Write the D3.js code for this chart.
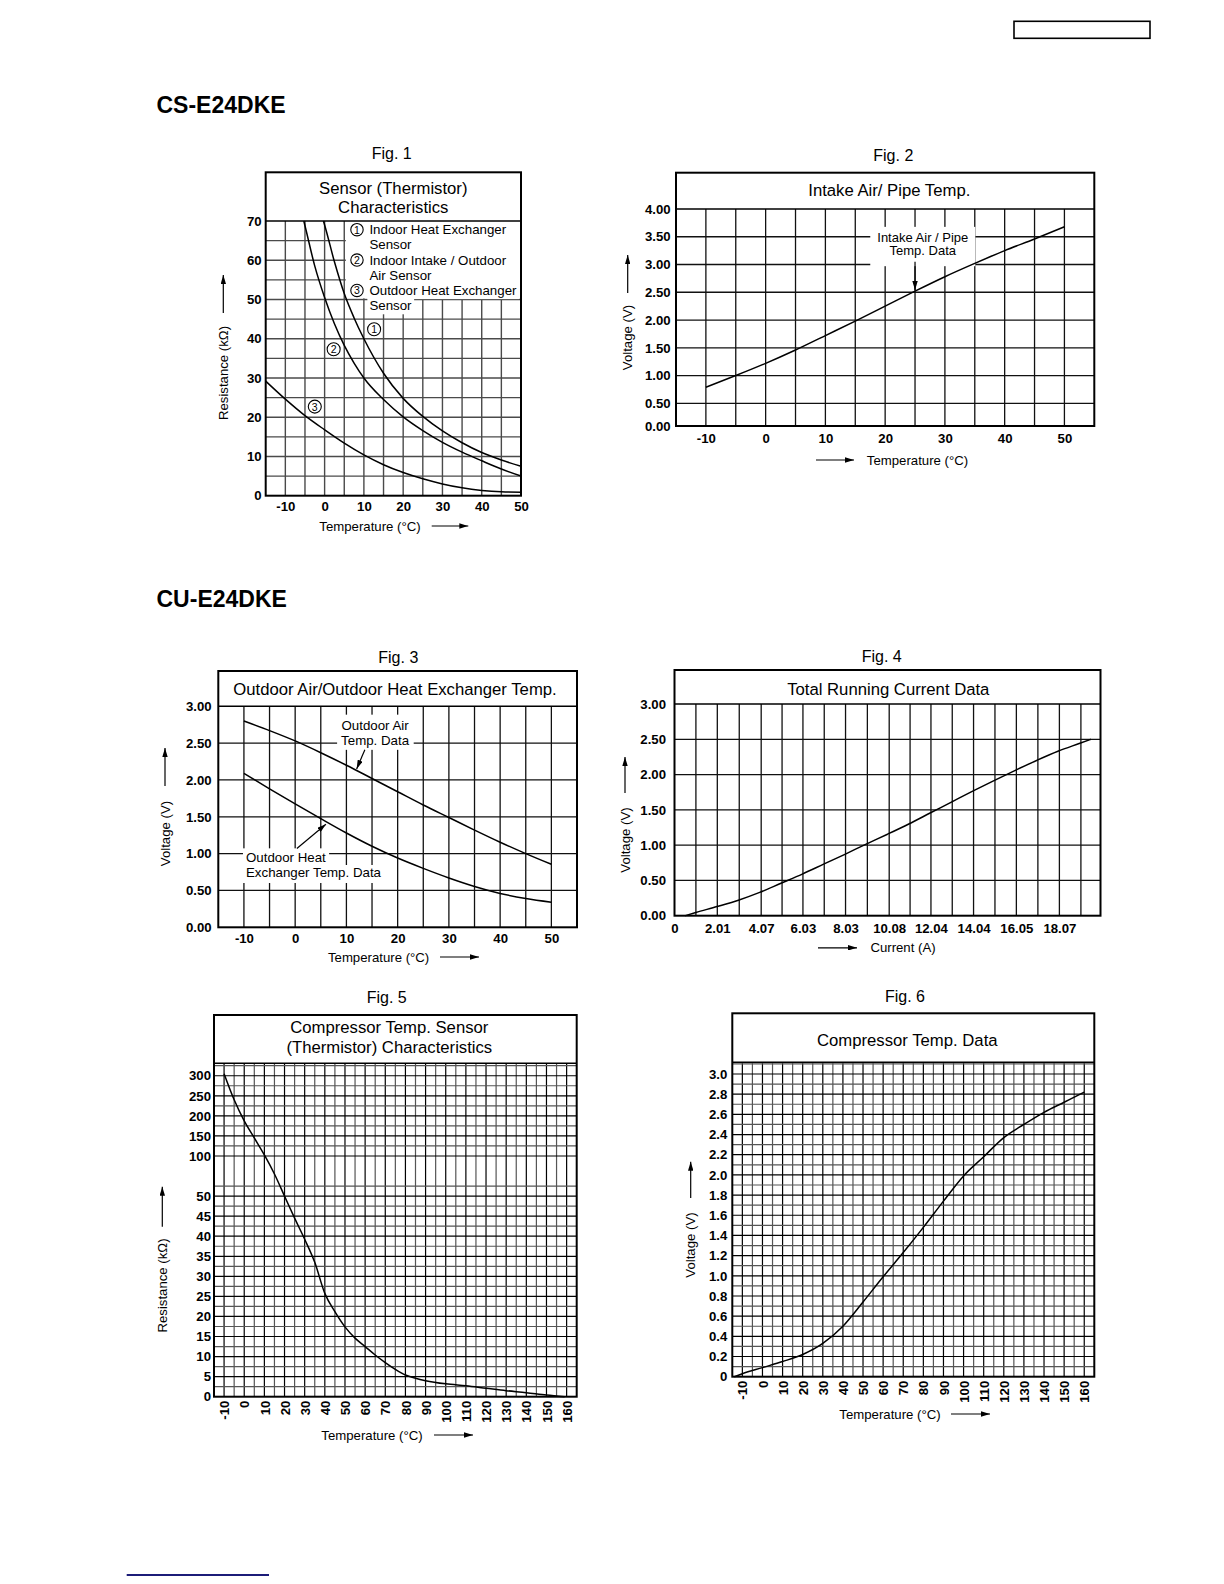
<!DOCTYPE html>
<html>
<head>
<meta charset="utf-8">
<script src="https://cdnjs.cloudflare.com/ajax/libs/d3/7.8.5/d3.min.js"></script>
<style>
html,body{margin:0;padding:0;background:#fff;}
svg{display:block;}
</style>
</head>
<body>
<svg id="page" width="1224" height="1584"></svg>
<script>
// ================= DATA =================
// Fig. 1  Sensor (Thermistor) Characteristics  (Temperature °C -> Resistance kΩ)
const fig1XTicks = [-10, 0, 10, 20, 30, 40, 50];
const fig1YTicks = [0, 10, 20, 30, 40, 50, 60, 70];
const fig1S1Temp = [-0.3, 0, 2.5, 5, 7.5, 10, 15, 20, 25, 30, 35, 40, 45, 50];
const fig1S1Res  = [70, 69, 59.6, 51.5, 45.3, 40, 31.2, 24.8, 20.2, 16.5, 13.5, 11, 9.1, 7.5];
const fig1S2Temp = [-5.3, -5, -2.5, 0, 2.5, 5, 7.5, 10, 15, 20, 25, 30, 35, 40, 45, 50];
const fig1S2Res  = [70, 68.8, 58.5, 50.5, 43.8, 38.3, 33.8, 30, 24.5, 20.1, 16.6, 13.6, 11.1, 8.9, 6.8, 5];
const fig1S3Temp = [-15, -10, -5, 0, 5, 10, 15, 20, 25, 30, 35, 40, 45, 50];
const fig1S3Res  = [29.2, 24.6, 20.4, 16.8, 13.4, 10.4, 7.9, 5.9, 4.3, 3.0, 2.0, 1.35, 1.0, 0.9];
const fig1Legend = [["1", "Indoor Heat Exchanger"], ["", "Sensor"], ["2", "Indoor Intake / Outdoor"],
                    ["", "Air Sensor"], ["3", "Outdoor Heat Exchanger"], ["", "Sensor"]];
const fig1CurveLabels = [["1", 12.6, 42.4], ["2", 2.3, 37.3], ["3", -2.5, 22.7]];

// Fig. 2  Intake Air/ Pipe Temp.
const fig2XTicks = [-10, 0, 10, 20, 30, 40, 50];
const fig2YTicks = [0, 0.5, 1, 1.5, 2, 2.5, 3, 3.5, 4];
const fig2Temp = [-10, -5, 0, 5, 10, 15, 20, 25, 30, 35, 40, 45, 50];
const fig2Volt = [0.79, 1.0, 1.22, 1.46, 1.72, 1.98, 2.25, 2.52, 2.78, 3.02, 3.25, 3.46, 3.68];

// Fig. 3  Outdoor Air/Outdoor Heat Exchanger Temp.
const fig3XTicks = [-10, 0, 10, 20, 30, 40, 50];
const fig3YTicks = [0, 0.5, 1, 1.5, 2, 2.5, 3];
const fig3Temp = [-10, -5, 0, 5, 10, 15, 20, 25, 30, 35, 40, 45, 50];
const fig3AirVolt = [2.80, 2.67, 2.53, 2.37, 2.20, 2.02, 1.84, 1.66, 1.49, 1.32, 1.155, 1.00, 0.855];
const fig3HexVolt = [2.09, 1.88, 1.675, 1.475, 1.28, 1.10, 0.94, 0.80, 0.67, 0.555, 0.46, 0.39, 0.34];

// Fig. 4  Total Running Current Data
const fig4XTicks = [0, 2.01, 4.07, 6.03, 8.03, 10.08, 12.04, 14.04, 16.05, 18.07];
const fig4YTicks = [0, 0.5, 1, 1.5, 2, 2.5, 3];
const fig4Current = [0.5, 1, 2, 3, 4, 5, 6, 7, 8, 9, 10, 11, 12, 13, 14, 15, 16, 17, 18, 19, 19.55];
const fig4Volt = [0, 0.045, 0.13, 0.22, 0.33, 0.46, 0.59, 0.73, 0.87, 1.015, 1.155, 1.30, 1.455, 1.61, 1.765, 1.915, 2.06, 2.2, 2.33, 2.44, 2.50];

// Fig. 5  Compressor Temp. Sensor (Thermistor) Characteristics
const fig5XTicks = [-10, 0, 10, 20, 30, 40, 50, 60, 70, 80, 90, 100, 110, 120, 130, 140, 150, 160];
const fig5YTicks = [0, 5, 10, 15, 20, 25, 30, 35, 40, 45, 50, 100, 150, 200, 250, 300];
const fig5Temp = [-10, -5, 0, 5, 10, 15, 20, 25, 30, 35, 40, 45, 50, 55, 60, 65, 70, 75, 80, 85, 90, 100, 110, 120, 130, 140, 150, 159];
const fig5Res  = [305, 240, 187.5, 145, 102.5, 77.5, 50, 44.5, 39.25, 33.5, 25.75, 21.2, 17.4, 14.6, 12.5, 10.4, 8.5, 6.8, 5.4, 4.6, 4.0, 3.2, 2.7, 2.1, 1.5, 1.0, 0.4, 0];

// Fig. 6  Compressor Temp. Data
const fig6XTicks = [-10, 0, 10, 20, 30, 40, 50, 60, 70, 80, 90, 100, 110, 120, 130, 140, 150, 160];
const fig6YTicks = [0, 0.2, 0.4, 0.6, 0.8, 1.0, 1.2, 1.4, 1.6, 1.8, 2.0, 2.2, 2.4, 2.6, 2.8, 3.0];
const fig6Temp = [-14, -10, 0, 10, 20, 30, 40, 50, 60, 70, 80, 90, 100, 110, 120, 130, 140, 150, 160];
const fig6Volt = [0, 0.03, 0.09, 0.15, 0.22, 0.33, 0.50, 0.74, 0.99, 1.23, 1.48, 1.74, 1.99, 2.18, 2.37, 2.50, 2.62, 2.72, 2.82];

// ================= DRAWING =================
const FONT = '"Liberation Sans", Arial, Helvetica, sans-serif';
const svg = d3.select("#page").attr("font-family", FONT);
const defs = svg.append("defs");
defs.append("marker").attr("id", "ah").attr("viewBox", "0 0 10 6").attr("refX", 10).attr("refY", 3)
  .attr("markerWidth", 9).attr("markerHeight", 5.4).attr("markerUnits", "userSpaceOnUse").attr("orient", "auto")
  .append("path").attr("d", "M0,0L10,3L0,6Z").attr("fill", "#000");

function text(g, x, y, s, o = {}) {
  return g.append("text").attr("x", x).attr("y", y).attr("dy", o.dy ?? "0.35em")
    .attr("text-anchor", o.anchor || "middle").attr("font-size", o.size || 13)
    .attr("font-weight", o.weight || "normal").attr("fill", "#000").text(s);
}
function arrow(g, x1, y1, x2, y2, w = 1.2) {
  g.append("line").attr("x1", x1).attr("y1", y1).attr("x2", x2).attr("y2", y2)
    .attr("stroke", "#000").attr("stroke-width", w).attr("marker-end", "url(#ah)");
}
function whiteBehind(bg, nodes, pad) {
  let x0 = Infinity, y0 = Infinity, x1 = -Infinity, y1 = -Infinity;
  nodes.forEach(n => { const b = n.node().getBBox();
    x0 = Math.min(x0, b.x); y0 = Math.min(y0, b.y); x1 = Math.max(x1, b.x + b.width); y1 = Math.max(y1, b.y + b.height); });
  bg.append("rect").attr("x", x0 - pad[3]).attr("y", y0 - pad[0])
    .attr("width", x1 - x0 + pad[1] + pad[3]).attr("height", y1 - y0 + pad[0] + pad[2]).attr("fill", "#fff");
}
function circled(g, cx, cy, n, r, fs) {
  g.append("circle").attr("cx", cx).attr("cy", cy).attr("r", r).attr("fill", "#fff").attr("stroke", "#000").attr("stroke-width", 1.1);
  text(g, cx, cy + 0.3, n, {size: fs});
}

function panel(p) {
  const g = svg.append("g");
  const x = p.x, y = p.y;
  const grid = g.append("g");
  grid.selectAll("line.v").data(p.xGrid).join("line").attr("class", "v")
    .attr("x1", d => x(d)).attr("x2", d => x(d)).attr("y1", p.bottom).attr("y2", p.plotTop)
    .attr("stroke", d => (p.majorX ? p.majorX(d) : true) ? p.gridMajor : p.gridMinor)
    .attr("stroke-width", p.gridW);
  grid.selectAll("line.h").data(p.yGrid).join("line").attr("class", "h")
    .attr("x1", p.left).attr("x2", p.right).attr("y1", d => y(d)).attr("y2", d => y(d))
    .attr("stroke", d => (p.majorY ? p.majorY(d) : true) ? p.gridMajor : p.gridMinor)
    .attr("stroke-width", p.gridW);
  const bg = g.append("g"), cv = g.append("g"), fg = g.append("g");
  const lineGen = d3.line().x(d => x(d[0])).y(d => y(d[1])).curve(d3.curveMonotoneX);
  p.series.forEach(s => cv.append("path").datum(d3.zip(s[0], s[1])).attr("d", lineGen)
    .attr("fill", "none").attr("stroke", "#000").attr("stroke-width", 1.5).attr("stroke-linejoin", "round"));
  // frame
  g.append("rect").attr("x", p.left).attr("y", p.top).attr("width", p.right - p.left)
    .attr("height", p.bottom - p.top).attr("fill", "none").attr("stroke", "#000").attr("stroke-width", 2);
  g.append("line").attr("x1", p.left).attr("x2", p.right).attr("y1", p.plotTop).attr("y2", p.plotTop)
    .attr("stroke", "#000").attr("stroke-width", 1.6);
  // figure label and title
  text(g, p.figX, p.figY, p.fig, {size: 16});
  p.title.forEach((t, i) => text(g, p.titleX, p.titleY[i], t, {size: 16.7}));
  // axes
  const ay = g.append("g").attr("transform", `translate(${p.left},0)`)
    .call(d3.axisLeft(y).tickValues(p.yTicks).tickFormat(p.yFmt).tickSize(0).tickPadding(p.yPad));
  ay.select(".domain").remove(); ay.selectAll(".tick line").remove();
  ay.attr("font-family", null).attr("font-size", null);
  ay.selectAll("text").attr("font-size", 13.2).attr("font-weight", "bold").attr("fill", "#000");
  const ax = g.append("g").attr("transform", `translate(0,${p.bottom})`)
    .call(d3.axisBottom(x).tickValues(p.xTicks).tickFormat(p.xFmt).tickSize(0).tickPadding(p.xPad));
  ax.select(".domain").remove(); ax.selectAll(".tick line").remove();
  ax.attr("font-family", null).attr("font-size", null);
  const xt = ax.selectAll("text").attr("font-size", 13.2).attr("font-weight", "bold").attr("fill", "#000");
  if (p.rotateX) xt.attr("transform", "rotate(-90)").attr("text-anchor", "end")
    .attr("x", -p.xPad).attr("y", 0).attr("dy", "0.35em");
  // axis titles with arrows
  text(g, p.xTitle.x, p.xTitle.y, p.xTitle.text, {size: 13.2});
  arrow(g, p.xTitle.a0, p.xTitle.y, p.xTitle.a1, p.xTitle.y);
  g.append("text").attr("transform", `translate(${p.yTitle.x},${p.yTitle.y}) rotate(-90)`)
    .attr("text-anchor", "middle").attr("dy", "0.35em").attr("font-size", 13.2).attr("fill", "#000").text(p.yTitle.text);
  arrow(g, p.yTitle.x, p.yTitle.a0, p.yTitle.x, p.yTitle.a1);
  return {g, bg, fg, x, y};
}

const plain = d => String(d);

// ---------- page furniture ----------
svg.append("rect").attr("x", 1014).attr("y", 21.3).attr("width", 136).attr("height", 17)
  .attr("fill", "none").attr("stroke", "#000").attr("stroke-width", 1.6);
svg.append("line").attr("x1", 126.7).attr("x2", 269).attr("y1", 1575).attr("y2", 1575)
  .attr("stroke", "#1c1c78").attr("stroke-width", 2);
text(svg, 156.5, 113.3, "CS-E24DKE", {anchor: "start", size: 23, weight: "bold", dy: 0});
text(svg, 156.5, 607, "CU-E24DKE", {anchor: "start", size: 23, weight: "bold", dy: 0});

// ---------- Fig. 1 ----------
const p1 = panel({
  left: 265.7, right: 521, top: 172.3, plotTop: 221, bottom: 495.7,
  x: d3.scaleLinear().domain([-15, 50]).range([265.7, 521]),
  y: d3.scaleLinear().domain([0, 70]).range([495.7, 221]),
  xGrid: d3.range(-10, 50, 5), yGrid: d3.range(5, 70, 5),
  gridMajor: "#4a4a4a", gridMinor: "#4a4a4a", gridW: 1.4,
  series: [[fig1S1Temp, fig1S1Res], [fig1S2Temp, fig1S2Res], [fig1S3Temp, fig1S3Res]],
  fig: "Fig. 1", figX: 391.7, figY: 153,
  title: ["Sensor (Thermistor)", "Characteristics"], titleX: 393.3, titleY: [188.3, 207.3],
  yTicks: fig1YTicks, yFmt: plain, yPad: 4,
  xTicks: fig1XTicks, xFmt: plain, xPad: 6,
  xTitle: {text: "Temperature (°C)", x: 370, y: 526, a0: 431.7, a1: 468.3},
  yTitle: {text: "Resistance (kΩ)", x: 223.3, y: 373, a0: 313, a1: 275}
});
{
  const {bg, fg, x, y} = p1;
  bg.append("rect").attr("x", x(5.4)).attr("y", y(70)).attr("width", x(50) - x(5.4))
    .attr("height", y(50.3) - y(70)).attr("fill", "#fff");
  fig1Legend.forEach((l, i) => {
    const cy = y(67.8) + i * 15.2;
    const t = text(fg, x(11.4), cy, l[1], {anchor: "start", size: 13.3});
    whiteBehind(bg, [t], [0, 2, 1, 2]);
    if (l[0]) circled(fg, x(8.24), cy, l[0], 6.2, 10.5);
  });
  fig1CurveLabels.forEach(c => circled(fg, x(c[1]), y(c[2]), c[0], 6.5, 10.5));
}

// ---------- Fig. 2 ----------
const p2 = panel({
  left: 676, right: 1094.3, top: 172.7, plotTop: 209, bottom: 426,
  x: d3.scaleLinear().domain([-15, 55]).range([676, 1094.3]),
  y: d3.scaleLinear().domain([0, 0.5, 4]).range([426, 403.3, 209]),
  xGrid: d3.range(-10, 55, 5), yGrid: d3.range(0.5, 4, 0.5),
  gridMajor: "#111", gridMinor: "#111", gridW: 1.3,
  series: [[fig2Temp, fig2Volt]],
  fig: "Fig. 2", figX: 893.3, figY: 155,
  title: ["Intake Air/ Pipe Temp."], titleX: 889.3, titleY: [189.7],
  yTicks: fig2YTicks, yFmt: d => d.toFixed(2), yPad: 5.3,
  xTicks: fig2XTicks, xFmt: plain, xPad: 7.5,
  xTitle: {text: "Temperature (°C)", x: 917.5, y: 460, a0: 816, a1: 854},
  yTitle: {text: "Voltage (V)", x: 627.7, y: 337.5, a0: 293, a1: 255}
});
{
  const {bg, fg, x, y} = p2;
  const t1 = text(fg, x(26.3), y(3.49), "Intake Air / Pipe", {size: 13});
  const t2 = text(fg, x(26.3), y(3.25), "Temp. Data", {size: 13});
  whiteBehind(bg, [t1, t2], [3, 7, 8, 7]);
  arrow(fg, x(25), y(3.05), x(25), y(2.54));
}

// ---------- Fig. 3 ----------
const p3 = panel({
  left: 218.3, right: 577, top: 671, plotTop: 706.3, bottom: 927.3,
  x: d3.scaleLinear().domain([-15, 55]).range([218.3, 577]),
  y: d3.scaleLinear().domain([0, 3]).range([927.3, 706.3]),
  xGrid: d3.range(-10, 55, 5), yGrid: d3.range(0.5, 3, 0.5),
  gridMajor: "#111", gridMinor: "#111", gridW: 1.3,
  series: [[fig3Temp, fig3AirVolt], [fig3Temp, fig3HexVolt]],
  fig: "Fig. 3", figX: 398.3, figY: 657,
  title: ["Outdoor Air/Outdoor Heat Exchanger Temp."], titleX: 395, titleY: [689],
  yTicks: fig3YTicks, yFmt: d => d.toFixed(2), yPad: 6.6,
  xTicks: fig3XTicks, xFmt: plain, xPad: 6.4,
  xTitle: {text: "Temperature (°C)", x: 378.6, y: 957, a0: 440, a1: 479},
  yTitle: {text: "Voltage (V)", x: 165, y: 833.5, a0: 786, a1: 748}
});
{
  const {bg, fg, x, y} = p3;
  const a1 = text(fg, x(15.6), y(2.746), "Outdoor Air", {size: 13.3});
  const a2 = text(fg, x(15.6), y(2.54), "Temp. Data", {size: 13.3});
  whiteBehind(bg, [a1, a2], [3, 4, 2, 4]);
  arrow(fg, x(13.6), y(2.41), x(12), y(2.15));
  const b1 = text(fg, x(-9.6), y(0.945), "Outdoor Heat", {anchor: "start", size: 13.3});
  const b2 = text(fg, x(-9.6), y(0.746), "Exchanger Temp. Data", {anchor: "start", size: 13.3});
  whiteBehind(bg, [b1], [2, 3, 0, 3]);
  whiteBehind(bg, [b2], [0, 3, 3, 3]);
  arrow(fg, x(0.33), y(1.07), x(6), y(1.40));
}

// ---------- Fig. 4 ----------
const fig4Grid = fig4XTicks.slice(1).concat(d3.pairs(fig4XTicks).map(([a, b]) => (a + b) / 2))
  .concat([fig4XTicks[fig4XTicks.length - 1] + (fig4XTicks[fig4XTicks.length - 1] - fig4XTicks[fig4XTicks.length - 2]) / 2]);
const p4 = panel({
  left: 674.5, right: 1100.5, top: 670, plotTop: 704, bottom: 915.7,
  x: d3.scaleLinear().domain([0, 20]).range([674.5, 1100.5]),
  y: d3.scaleLinear().domain([0, 3]).range([915.7, 704]),
  xGrid: fig4Grid, yGrid: d3.range(0.5, 3, 0.5),
  gridMajor: "#111", gridMinor: "#111", gridW: 1.3,
  series: [[fig4Current, fig4Volt]],
  fig: "Fig. 4", figX: 881.7, figY: 656.5,
  title: ["Total Running Current Data"], titleX: 888.3, titleY: [689],
  yTicks: fig4YTicks, yFmt: d => d.toFixed(2), yPad: 8.5,
  xTicks: fig4XTicks, xFmt: d => d === 0 ? "0" : d.toFixed(2), xPad: 8,
  xTitle: {text: "Current (A)", x: 903, y: 947.8, a0: 818, a1: 857},
  yTitle: {text: "Voltage (V)", x: 625, y: 840, a0: 793, a1: 757}
});

// ---------- Fig. 5 ----------
const f5y0 = 1396.7, f5slot = 20.06;
const p5 = panel({
  left: 214, right: 576.7, top: 1015, plotTop: 1063.3, bottom: f5y0,
  x: d3.scaleLinear().domain([-15, 165]).range([214, 576.7]),
  y: d3.scaleLinear().domain([0, 50, 100, 331.2])
       .range([f5y0, f5y0 - 10 * f5slot, f5y0 - 12 * f5slot, f5y0 - 16.624 * f5slot]),
  xGrid: d3.range(-10, 165, 5),
  yGrid: d3.range(1, 21).map(i => i * 2.5).concat([62.5]).concat(d3.range(4, 14).map(i => i * 25)),
  majorX: d => d % 10 === 0, majorY: d => fig5YTicks.includes(d),
  gridMajor: "#000", gridMinor: "#555", gridW: 1.2,
  series: [[fig5Temp, fig5Res]],
  fig: "Fig. 5", figX: 386.7, figY: 997,
  title: ["Compressor Temp. Sensor", "(Thermistor) Characteristics"], titleX: 389.3, titleY: [1027.3, 1046.7],
  yTicks: fig5YTicks, yFmt: plain, yPad: 3,
  xTicks: fig5XTicks, xFmt: plain, xPad: 4, rotateX: true,
  xTitle: {text: "Temperature (°C)", x: 372, y: 1435, a0: 434, a1: 473},
  yTitle: {text: "Resistance (kΩ)", x: 162.3, y: 1285.5, a0: 1226.7, a1: 1186.7}
});

// ---------- Fig. 6 ----------
const p6 = panel({
  left: 732.3, right: 1094.3, top: 1013.3, plotTop: 1062.3, bottom: 1376.7,
  x: d3.scaleLinear().domain([-15, 165]).range([732.3, 1094.3]),
  y: d3.scaleLinear().domain([0, 3.116]).range([1376.7, 1062.3]),
  xGrid: d3.range(-10, 165, 5),
  yGrid: d3.range(1, 32).map(i => i / 10),
  majorX: d => d % 10 === 0, majorY: d => Math.round(d * 10) % 2 === 0,
  gridMajor: "#000", gridMinor: "#555", gridW: 1.2,
  series: [[fig6Temp, fig6Volt]],
  fig: "Fig. 6", figX: 905, figY: 996.5,
  title: ["Compressor Temp. Data"], titleX: 907.3, titleY: [1039.7],
  yTicks: fig6YTicks, yFmt: d => d === 0 ? "0" : d.toFixed(1), yPad: 5,
  xTicks: fig6XTicks, xFmt: plain, xPad: 4, rotateX: true,
  xTitle: {text: "Temperature (°C)", x: 890, y: 1414, a0: 951, a1: 990},
  yTitle: {text: "Voltage (V)", x: 690.7, y: 1245, a0: 1198, a1: 1161.7}
});
</script>
</body>
</html>
